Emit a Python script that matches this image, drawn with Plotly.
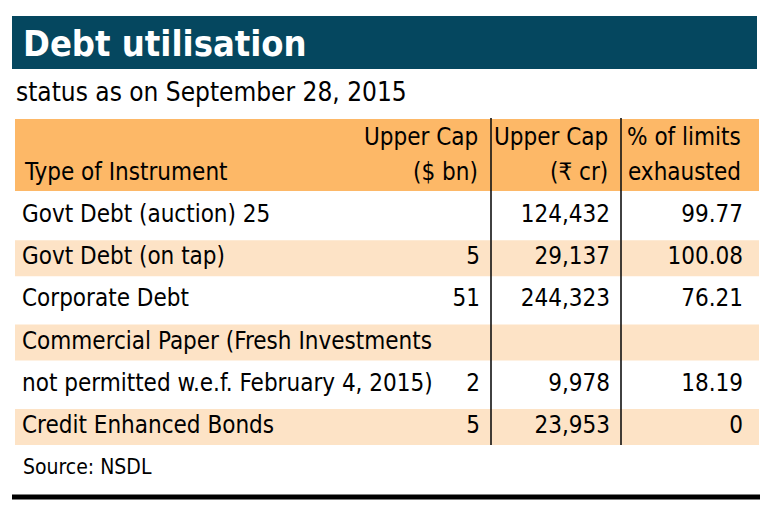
import plotly.graph_objects as go

title = "Debt utilisation"
subtitle = "status as on September 28, 2015"
source = "Source: NSDL"

header_top = ["", "Upper Cap", "Upper Cap", "% of limits"]
header_bottom = ["Type of Instrument", "($ bn)", "(₹ cr)", "exhausted"]

instruments = [
    "Govt Debt (auction) 25",
    "Govt Debt (on tap)",
    "Corporate Debt",
    "Commercial Paper (Fresh Investments",
    "not permitted w.e.f. February 4, 2015)",
    "Credit Enhanced Bonds",
]
cap_usd_bn = ["", "5", "51", "", "2", "5"]
cap_inr_cr = ["124,432", "29,137", "244,323", "", "9,978", "23,953"]
pct_exhausted = ["99.77", "100.08", "76.21", "", "18.19", "0"]

# axes in window pixels; the page body puts the figure 8px in from the corner
W, H = 780, 510
OFF = 8
FONT = "DejaVu Sans Condensed, Liberation Sans Narrow, Arial Narrow, sans-serif"
INK = "#000"
NAVY = "#05475f"
ORANGE = "#fdb867"
LIGHT = "#fde3c6"

left, right = 15, 759
head_y0, head_y1 = 119, 191
row0, pitch = 216, 42.2
col_x = [22, 480, 610, 743]
div_x = [491, 621]

row_y = [row0 + i * pitch for i in range(len(instruments))]

fig = go.Figure()

shapes = [
    dict(type="rect", x0=12, x1=757, y0=16, y1=69, fillcolor=NAVY, line_width=0, layer="below"),
    dict(type="rect", x0=left, x1=right, y0=head_y0, y1=head_y1, fillcolor=ORANGE, line_width=0, layer="below"),
]
for i, y in enumerate(row_y):
    if i % 2 == 1:
        shapes.append(dict(type="rect", x0=left, x1=right, y0=y - 18, y1=y + 18,
                           fillcolor=LIGHT, line_width=0, layer="below"))
for x in div_x:
    shapes.append(dict(type="line", x0=x, x1=x, y0=head_y0 - 1, y1=row_y[-1] + 18,
                       line=dict(color="#111", width=1.6)))
shapes.append(dict(type="line", x0=12, x1=760, y0=497, y1=497, line=dict(color="#000", width=5)))

# body cells
fig.add_trace(go.Scatter(x=[col_x[0]] * len(instruments), y=row_y, text=instruments,
                         mode="text", textposition="middle right",
                         textfont=dict(family=FONT, size=24, color=INK), hoverinfo="skip"))
for cx, vals in zip(col_x[1:], [cap_usd_bn, cap_inr_cr, pct_exhausted]):
    fig.add_trace(go.Scatter(x=[cx] * len(vals), y=row_y, text=vals,
                             mode="text", textposition="middle left",
                             textfont=dict(family=FONT, size=24, color=INK), hoverinfo="skip"))

annotations = [
    dict(x=21, y=43, text="<b>" + title + "</b>", xanchor="left", yanchor="middle",
         font=dict(family=FONT, size=36, color="white")),
    dict(x=14, y=92, text=subtitle, xanchor="left", yanchor="middle",
         font=dict(family=FONT, size=26, color=INK)),
    dict(x=21, y=467, text=source, xanchor="left", yanchor="middle",
         font=dict(family=FONT, size=21, color=INK)),
]
for i, (t, b) in enumerate(zip(header_top, header_bottom)):
    anchor = "left" if i == 0 else "right"
    if t:
        annotations.append(dict(x=col_x[i], y=137, text=t, xanchor=anchor, yanchor="middle",
                                font=dict(family=FONT, size=24, color=INK)))
    annotations.append(dict(x=col_x[i], y=172, text=b, xanchor=anchor, yanchor="middle",
                            font=dict(family=FONT, size=24, color=INK)))
for a in annotations:
    a.update(showarrow=False, xref="x", yref="y")

fig.update_layout(
    width=W, height=H,
    margin=dict(l=0, r=0, t=0, b=0),
    paper_bgcolor="white", plot_bgcolor="white",
    showlegend=False,
    shapes=shapes,
    annotations=annotations,
    xaxis=dict(range=[OFF, W + OFF], visible=False, fixedrange=True),
    yaxis=dict(range=[H + OFF, OFF], visible=False, fixedrange=True),
)

fig.write_html("out.html")
